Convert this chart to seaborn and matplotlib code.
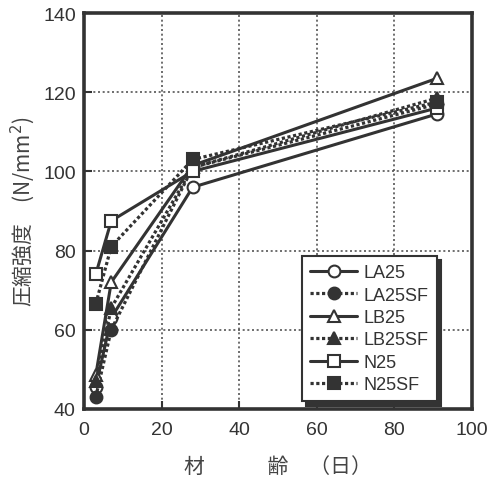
import matplotlib
matplotlib.use("Agg")
import matplotlib.pyplot as plt
import seaborn as sns
import pandas as pd

# Curing age (days) and compressive strength (N/mm^2) per mix
ages = [3, 7, 28, 91]
series_names = ["LA25", "LA25SF", "LB25", "LB25SF", "N25", "N25SF"]
la25 = [45.5, 63.0, 96.0, 114.5]
la25sf = [43.0, 60.0, 101.0, 117.0]
lb25 = [48.5, 72.0, 101.5, 123.5]
lb25sf = [47.0, 65.5, 101.0, 118.5]
n25 = [74.0, 87.5, 100.0, 116.0]
n25sf = [66.5, 81.0, 103.0, 117.5]
x_ticks = [0, 20, 40, 60, 80, 100]
y_ticks = [40, 60, 80, 100, 120, 140]

values = [la25, la25sf, lb25, lb25sf, n25, n25sf]
df = pd.DataFrame(
    [(a, v, name) for name, vals in zip(series_names, values) for a, v in zip(ages, vals)],
    columns=["age", "strength", "mix"],
)

sns.set_theme(style="white")
plt.rcParams["font.family"] = ["Liberation Sans", "Noto Sans CJK JP", "DejaVu Sans"]

fig = plt.figure(figsize=(4.92, 4.85), dpi=100)
ax = fig.add_axes([0.171, 0.155, 0.788, 0.816])

ink = "#333333"
markers = {"LA25": "o", "LA25SF": "o", "LB25": "^", "LB25SF": "^", "N25": "s", "N25SF": "s"}
filled = {"LA25": False, "LA25SF": True, "LB25": False, "LB25SF": True, "N25": False, "N25SF": True}

for name in series_names:
    sub = df[df["mix"] == name]
    is_sf = filled[name]
    sns.lineplot(
        data=sub, x="age", y="strength", ax=ax,
        color=ink, linewidth=2.3 if is_sf else 2.2,
        linestyle=(0, (1.0, 0.8)) if is_sf else "-",
        marker=markers[name], markersize=9 if markers[name] == "^" else 8.5,
        markerfacecolor=ink if is_sf else "white",
        markeredgecolor=ink, markeredgewidth=1.5,
        label=name, legend=False,
    )

ax.set_xlim(0, 100)
ax.set_ylim(40, 140)
ax.set_xticks(x_ticks)
ax.set_yticks(y_ticks)
ax.set_xticklabels([str(t) for t in x_ticks], fontsize=14, color=ink)
ax.set_yticklabels([str(t) for t in y_ticks], fontsize=14, color=ink)
ax.grid(True, linestyle=(0, (1.2, 1.6)), color="#555555", linewidth=1.2)
ax.tick_params(axis="x", direction="in", length=6, width=1.5, color=ink, pad=9,
               bottom=True)
ax.tick_params(axis="y", direction="in", length=6, width=1.5, color=ink, pad=6,
               left=True)
for s in ax.spines.values():
    s.set_linewidth(2.6)
    s.set_color(ink)

ax.set_xlabel("材　　　齢　（日）", fontsize=15, color="#444444",
              family=["Noto Sans CJK JP"], labelpad=12)
ax.set_ylabel("圧縮強度　(N/mm$^2$)", fontsize=15, color="#444444",
              family=["Noto Sans CJK JP", "DejaVu Sans"], labelpad=4)

handles, labels = ax.get_legend_handles_labels()
leg = ax.legend(handles, labels, loc="lower right", bbox_to_anchor=(0.933, -0.004),
                frameon=True, fancybox=False,
                shadow={"color": ink, "alpha": 1.0, "ox": 3, "oy": -3},
                edgecolor=ink, fontsize=13, handlelength=2.6,
                labelspacing=0.3, borderpad=0.45, handletextpad=0.35)
leg.get_frame().set_linewidth(1.5)
for t in leg.get_texts():
    t.set_color(ink)

fig.savefig("out.png", dpi=100)
